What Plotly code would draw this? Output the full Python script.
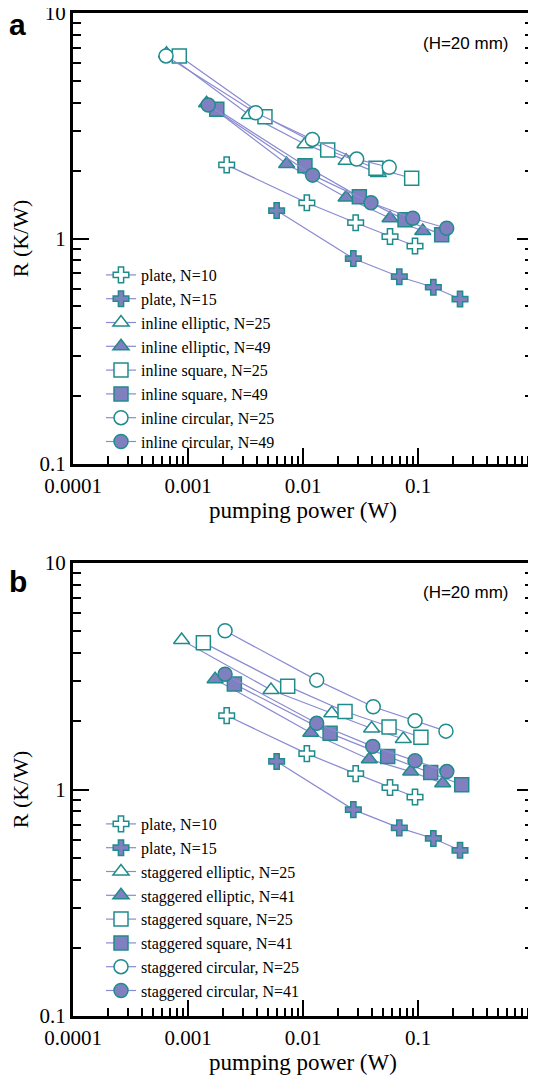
import plotly.graph_objects as go

# --- data (pumping power in W, R in K/W) ---
plate10_x = [0.00217, 0.0108, 0.0287, 0.0571, 0.0942]
plate10_y = [2.12, 1.44, 1.175, 1.02, 0.926]
plate15_x = [0.0059, 0.0274, 0.0688, 0.136, 0.232]
plate15_y = [1.33, 0.815, 0.677, 0.608, 0.539]

# panel a: inline arrays
in_ell25_x = [0.00065, 0.00341, 0.0104, 0.0237, 0.0452]
in_ell25_y = [6.6, 3.53, 2.62, 2.21, 1.95]
in_ell49_x = [0.00145, 0.00721, 0.0237, 0.0571, 0.110]
in_ell49_y = [3.98, 2.14, 1.52, 1.23, 1.08]
in_sq25_x = [0.00084, 0.00467, 0.0164, 0.0431, 0.0881]
in_sq25_y = [6.45, 3.47, 2.47, 2.05, 1.85]
in_sq49_x = [0.00178, 0.0104, 0.0309, 0.0771, 0.1607]
in_sq49_y = [3.74, 2.10, 1.53, 1.21, 1.04]
in_circ25_x = [0.000644, 0.00388, 0.01205, 0.0293, 0.0562]
in_circ25_y = [6.45, 3.61, 2.75, 2.25, 2.07]
in_circ49_x = [0.0015, 0.01213, 0.039, 0.090, 0.1777]
in_circ49_y = [3.91, 1.91, 1.44, 1.23, 1.11]

# panel b: staggered arrays
st_ell25_x = [0.00088, 0.00527, 0.0178, 0.0395, 0.0745]
st_ell25_y = [4.57, 2.75, 2.17, 1.86, 1.67]
st_ell41_x = [0.00172, 0.01167, 0.0377, 0.0864, 0.164]
st_ell41_y = [3.07, 1.78, 1.36, 1.20, 1.065]
st_sq25_x = [0.00136, 0.00736, 0.0232, 0.056, 0.106]
st_sq25_y = [4.45, 2.86, 2.21, 1.89, 1.70]
st_sq41_x = [0.00253, 0.0172, 0.0545, 0.129, 0.240]
st_sq41_y = [2.92, 1.77, 1.40, 1.19, 1.05]
st_circ25_x = [0.0021, 0.01315, 0.0408, 0.0942, 0.175]
st_circ25_y = [5.02, 3.04, 2.32, 2.01, 1.81]
st_circ41_x = [0.0021, 0.01315, 0.0404, 0.0942, 0.178]
st_circ41_y = [3.23, 1.96, 1.55, 1.34, 1.20]

x_ticks = [0.0001, 0.001, 0.01, 0.1, 1]
x_tick_text = ["0.0001", "0.001", "0.01", "0.1", "1"]
y_ticks = [0.1, 1, 10]
y_tick_text = ["0.1", "1", "10"]
# minor ticks at 2..9 within each decade
x_minor = [m * 10.0 ** e for e in range(-4, 0) for m in range(2, 10)]
y_minor = [m * 10.0 ** e for e in range(-1, 1) for m in range(2, 10)]

TEAL = "#1f8c8c"
PURPLE = "#8080c0"
LINE = "#8a8ad2"
SERIF = "Liberation Serif"
SANS = "Liberation Sans"

# the page body adds an 8 px margin, so the figure is drawn 8 px smaller
# and every page position below is shifted by that offset
OFF = 8
W, H = 536 - OFF, 1084 - OFF


def px(x):
    return (x - OFF) / W


def py(y):
    return 1 - (y - OFF) / H


panel_a = [
    ("plate, N=10", plate10_x, plate10_y, "cross", False),
    ("plate, N=15", plate15_x, plate15_y, "cross", True),
    ("inline elliptic, N=25", in_ell25_x, in_ell25_y, "triangle-up", False),
    ("inline elliptic, N=49", in_ell49_x, in_ell49_y, "triangle-up", True),
    ("inline square, N=25", in_sq25_x, in_sq25_y, "square", False),
    ("inline square, N=49", in_sq49_x, in_sq49_y, "square", True),
    ("inline circular, N=25", in_circ25_x, in_circ25_y, "circle", False),
    ("inline circular, N=49", in_circ49_x, in_circ49_y, "circle", True),
]
panel_b = [
    ("plate, N=10", plate10_x, plate10_y, "cross", False),
    ("plate, N=15", plate15_x, plate15_y, "cross", True),
    ("staggered elliptic, N=25", st_ell25_x, st_ell25_y, "triangle-up", False),
    ("staggered elliptic, N=41", st_ell41_x, st_ell41_y, "triangle-up", True),
    ("staggered square, N=25", st_sq25_x, st_sq25_y, "square", False),
    ("staggered square, N=41", st_sq41_x, st_sq41_y, "square", True),
    ("staggered circular, N=25", st_circ25_x, st_circ25_y, "circle", False),
    ("staggered circular, N=41", st_circ41_x, st_circ41_y, "circle", True),
]

fig = go.Figure()


def add_series(series, xref, yref, legend):
    for name, xs, ys, symbol, filled in series:
        size = 13 if symbol == "cross" else 14
        fig.add_trace(go.Scatter(
            x=xs, y=ys, name=name, mode="lines+markers",
            xaxis=xref, yaxis=yref, legend=legend,
            line=dict(color=LINE, width=1.2),
            marker=dict(symbol=symbol, size=size,
                        color=PURPLE if filled else "white",
                        line=dict(color=TEAL, width=1.5)),
        ))


add_series(panel_a, "x", "y", "legend")
add_series(panel_b, "x2", "y2", "legend2")

xax = dict(
    type="log", range=[-4, 0], tickmode="array", tickvals=x_ticks, ticktext=x_tick_text,
    ticks="inside", ticklen=16, tickwidth=2, tickcolor="black",
    minor=dict(tickmode="array", tickvals=x_minor, ticks="inside", ticklen=8,
               tickwidth=1.5, tickcolor="black", showgrid=False),
    showline=True, linewidth=3, linecolor="black", mirror=True,
    showgrid=False, zeroline=False, automargin=False, ticklabeloverflow="allow",
    ticklabelstandoff=1,
    tickfont=dict(family=SERIF, size=21, color="black"),
    title=dict(text="pumping power (W)", font=dict(family=SERIF, size=23, color="black"), standoff=4),
)
yax = dict(
    type="log", range=[-1, 1], tickmode="array", tickvals=y_ticks, ticktext=y_tick_text,
    ticks="inside", ticklen=16, tickwidth=2, tickcolor="black",
    minor=dict(tickmode="array", tickvals=y_minor, ticks="inside", ticklen=8,
               tickwidth=1.5, tickcolor="black", showgrid=False),
    showline=True, linewidth=3, linecolor="black", mirror="ticks",
    showgrid=False, zeroline=False, automargin=False, ticklabeloverflow="allow",
    tickfont=dict(family=SERIF, size=21, color="black"),
    title=dict(text="R (K/W)", font=dict(family=SERIF, size=22, color="black"), standoff=10),
)

legend_style = dict(
    font=dict(family=SERIF, size=16, color="black"),
    bgcolor="rgba(0,0,0,0)", borderwidth=0, xanchor="left", yanchor="top",
    tracegroupgap=0,
)

fig.update_layout(
    width=W, height=H,
    margin=dict(l=0, r=0, t=0, b=0),
    paper_bgcolor="white", plot_bgcolor="white",
    xaxis=dict(xax, domain=[px(73), px(533)], anchor="y"),
    yaxis=dict(yax, domain=[py(464), py(13)], anchor="x"),
    xaxis2=dict(xax, domain=[px(73), px(533)], anchor="y2"),
    yaxis2=dict(yax, domain=[py(1016), py(563)], anchor="x2"),
    legend=dict(legend_style, x=px(101), y=py(258)),
    legend2=dict(legend_style, x=px(101), y=py(807)),
    showlegend=True,
)

# panel letters and the channel height note
for letter, ypos, note_y in [("a", 24.5, 43), ("b", 581.5, 593)]:
    fig.add_annotation(text=letter, xref="paper", yref="paper",
                       x=px(17.5), y=py(ypos), xanchor="center", yanchor="middle",
                       showarrow=False,
                       font=dict(family=SANS, size=30, color="black", weight="bold"))
    fig.add_annotation(text="(H=20 mm)", xref="paper", yref="paper",
                       x=px(510), y=py(note_y), xanchor="right", yanchor="middle",
                       showarrow=False,
                       font=dict(family=SANS, size=17, color="black"))

fig.write_html("out.html")
